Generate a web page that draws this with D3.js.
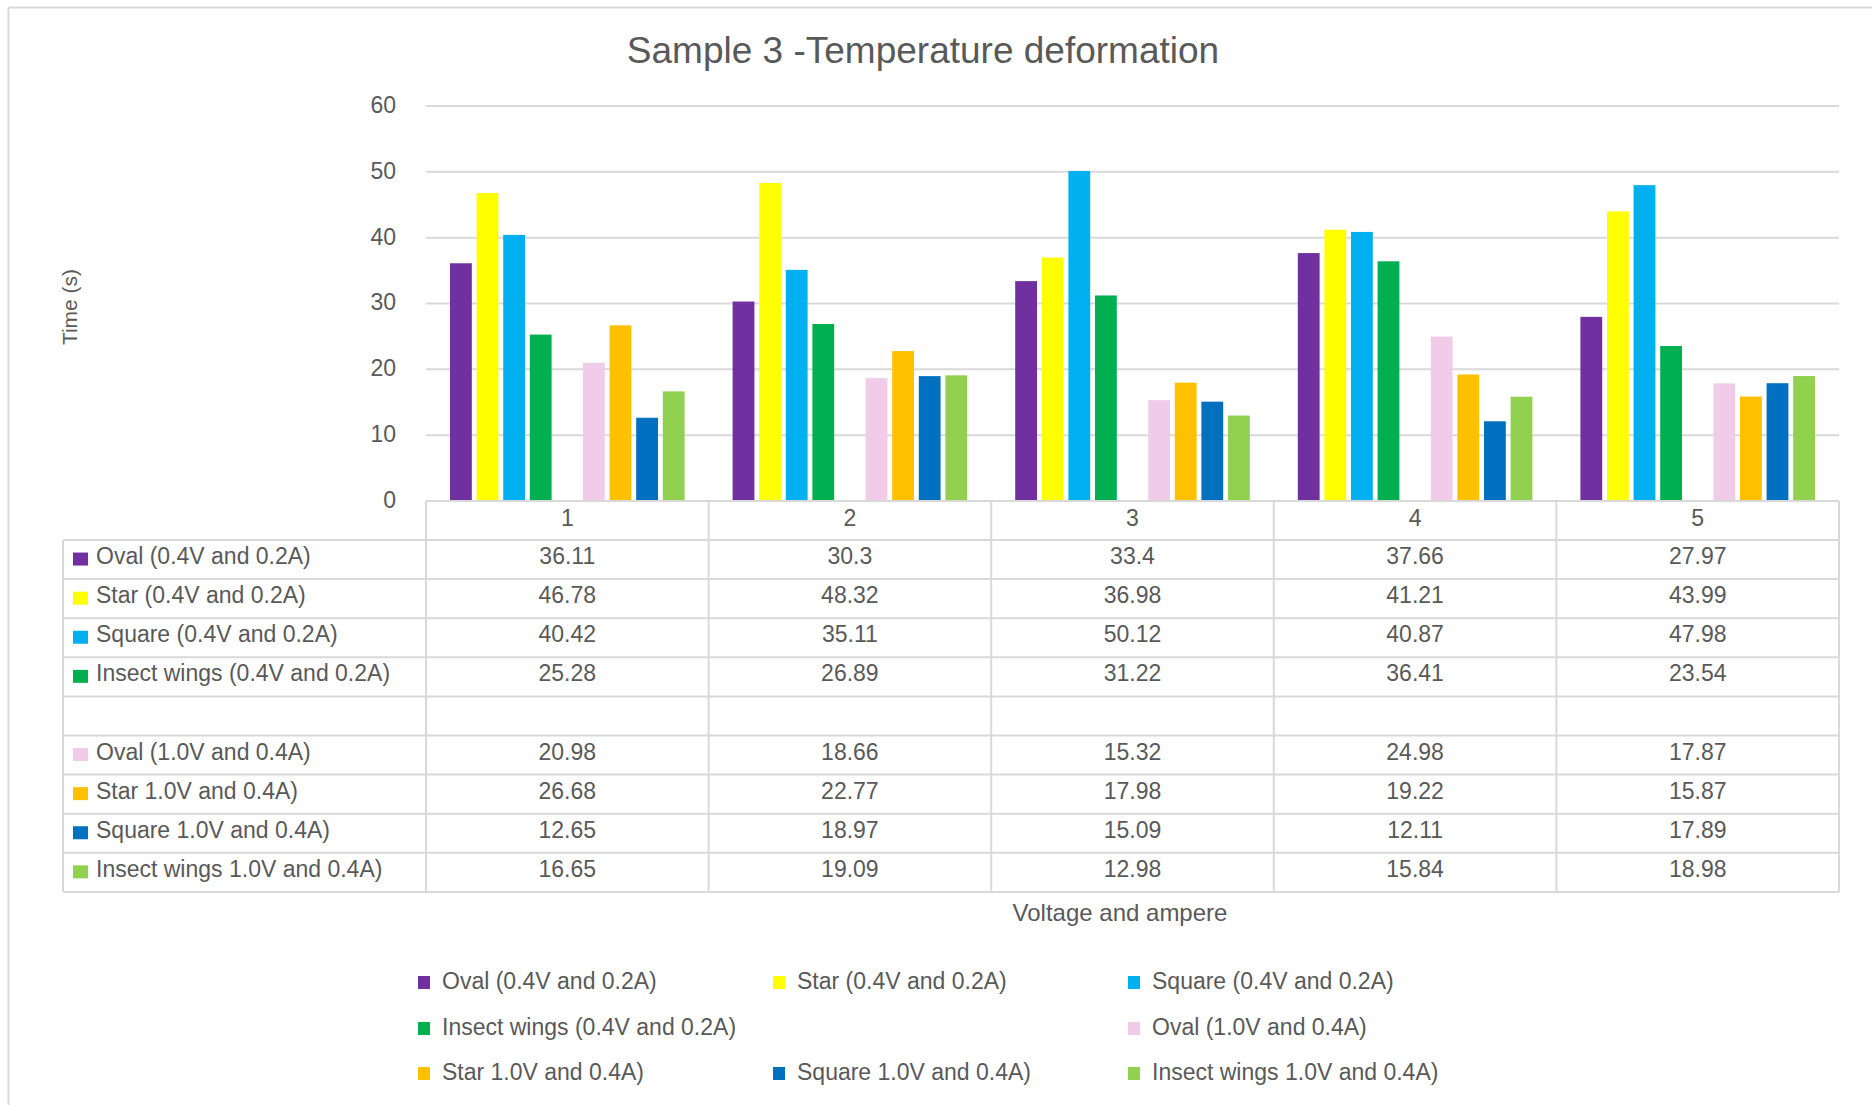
<!DOCTYPE html>
<html>
<head>
<meta charset="utf-8">
<script src="https://cdn.jsdelivr.net/npm/d3@7/dist/d3.min.js"></script>
<style>
  html, body { margin: 0; padding: 0; background: #ffffff; }
  svg { display: block; font-family: "Liberation Sans", Arial, sans-serif; }
</style>
</head>
<body>
<svg id="chart" width="1872" height="1105"></svg>
<script>
// ---------- data ----------
const categories = ["1", "2", "3", "4", "5"];
const seriesNames = [
  "Oval (0.4V and 0.2A)",
  "Star (0.4V and 0.2A)",
  "Square (0.4V and 0.2A)",
  "Insect wings (0.4V and 0.2A)",
  "",
  "Oval (1.0V and 0.4A)",
  "Star 1.0V and 0.4A)",
  "Square 1.0V and 0.4A)",
  "Insect wings 1.0V and 0.4A)"
];
const ovalLow    = [36.11, 30.3, 33.4, 37.66, 27.97];
const starLow    = [46.78, 48.32, 36.98, 41.21, 43.99];
const squareLow  = [40.42, 35.11, 50.12, 40.87, 47.98];
const insectLow  = [25.28, 26.89, 31.22, 36.41, 23.54];
const blankSeries = [null, null, null, null, null];
const ovalHigh   = [20.98, 18.66, 15.32, 24.98, 17.87];
const starHigh   = [26.68, 22.77, 17.98, 19.22, 15.87];
const squareHigh = [12.65, 18.97, 15.09, 12.11, 17.89];
const insectHigh = [16.65, 19.09, 12.98, 15.84, 18.98];
const seriesValues = [ovalLow, starLow, squareLow, insectLow, blankSeries,
                      ovalHigh, starHigh, squareHigh, insectHigh];
const seriesColors = ["#7030A0", "#FFFF00", "#00B0F0", "#00B050", "none",
                      "#F0CCE8", "#FFC000", "#0070C0", "#92D050"];
const yTicks = [0, 10, 20, 30, 40, 50, 60];
const titleText = "Sample 3 -Temperature deformation";
const yTitle = "Time (s)";
const xTitle = "Voltage and ampere";

// ---------- layout ----------
const svg = d3.select("#chart");
const textColor = "#595959";
const gridColor = "#d9d9d9";
const plotLeft = 426, plotRight = 1839;
const yTopPx = 106, yZeroPx = 501;
const tableLeft = 63;
const headerBottom = 540;
const rowH = 39.1;

// chart border
svg.append("line").attr("x1", 8.5).attr("x2", 1872).attr("y1", 7.5).attr("y2", 7.5)
  .attr("stroke", gridColor).attr("stroke-width", 2);
svg.append("line").attr("x1", 8.5).attr("x2", 8.5).attr("y1", 7.5).attr("y2", 1105)
  .attr("stroke", gridColor).attr("stroke-width", 2);

// scales
const x0 = d3.scaleBand().domain(categories).range([plotLeft, plotRight]).padding(0);
const x1 = d3.scaleBand().domain(d3.range(seriesNames.length))
  .range([24, x0.bandwidth() - 24]).paddingInner(0.18).paddingOuter(0);
const y = d3.scaleLinear().domain([0, 60]).range([yZeroPx, yTopPx]);

// gridlines + y axis labels
const yAxis = d3.axisLeft(y).tickValues(yTicks).tickSize(0).tickPadding(30);
const gy = svg.append("g").attr("transform", `translate(${plotLeft},-1)`).call(yAxis);
gy.select(".domain").remove();
gy.selectAll("text").attr("fill", textColor).style("font-size", "23px")
  .style("font-family", "'Liberation Sans', Arial, sans-serif");
svg.append("g").selectAll("line").data(yTicks.filter(d => d > 0)).join("line")
  .attr("x1", plotLeft).attr("x2", plotRight)
  .attr("y1", d => y(d)).attr("y2", d => y(d))
  .attr("stroke", gridColor).attr("stroke-width", 2);

// bars
const barData = [];
seriesValues.forEach((vals, si) => {
  vals.forEach((v, ci) => {
    if (v !== null && seriesColors[si] !== "none") barData.push({ si, ci, v });
  });
});
svg.append("g").selectAll("rect").data(barData).join("rect")
  .attr("x", d => x0(categories[d.ci]) + x1(d.si))
  .attr("width", x1.bandwidth())
  .attr("y", d => y(d.v))
  .attr("height", d => y(0) - y(d.v))
  .attr("fill", d => seriesColors[d.si]);

// ---------- data table ----------
const tableBottom = headerBottom + rowH * seriesNames.length;
const tg = svg.append("g");
tg.append("line").attr("x1", plotLeft).attr("x2", plotRight)
  .attr("y1", yZeroPx).attr("y2", yZeroPx).attr("stroke", gridColor).attr("stroke-width", 2);
d3.range(seriesNames.length + 1).forEach(i => {
  const yy = headerBottom + i * rowH;
  tg.append("line").attr("x1", tableLeft).attr("x2", plotRight)
    .attr("y1", yy).attr("y2", yy).attr("stroke", gridColor).attr("stroke-width", 2);
});
const colEdges = categories.map(c => x0(c)).concat([plotRight]);
colEdges.forEach(xx => {
  tg.append("line").attr("x1", xx).attr("x2", xx)
    .attr("y1", yZeroPx).attr("y2", tableBottom).attr("stroke", gridColor).attr("stroke-width", 2);
});
tg.append("line").attr("x1", tableLeft).attr("x2", tableLeft)
  .attr("y1", headerBottom).attr("y2", tableBottom).attr("stroke", gridColor).attr("stroke-width", 2);

// header labels
tg.selectAll("text.hdr").data(categories).join("text").attr("class", "hdr")
  .attr("x", d => x0(d) + x0.bandwidth() / 2)
  .attr("y", (yZeroPx + headerBottom) / 2 - 2.5)
  .attr("dy", "0.35em").attr("text-anchor", "middle")
  .attr("fill", textColor).style("font-size", "23px").text(d => d);

// row labels + keys + values
seriesNames.forEach((name, si) => {
  const cy = headerBottom + si * rowH + rowH / 2;
  const ty = cy - 3.5;
  if (name) {
    tg.append("rect").attr("x", 73).attr("y", cy - 7).attr("width", 15).attr("height", 13)
      .attr("fill", seriesColors[si]);
    tg.append("text").attr("x", 96).attr("y", ty).attr("dy", "0.35em")
      .attr("fill", textColor).style("font-size", "23px").text(name);
  }
  seriesValues[si].forEach((v, ci) => {
    if (v === null) return;
    tg.append("text").attr("x", x0(categories[ci]) + x0.bandwidth() / 2)
      .attr("y", ty).attr("dy", "0.35em").attr("text-anchor", "middle")
      .attr("fill", textColor).style("font-size", "23px").text(String(v));
  });
});

// ---------- titles ----------
svg.append("text").attr("x", 923).attr("y", 63).attr("text-anchor", "middle")
  .attr("fill", textColor).style("font-size", "37px").text(titleText);
svg.append("text").attr("transform", "translate(77,307) rotate(-90)")
  .attr("text-anchor", "middle").attr("fill", textColor).style("font-size", "21px").text(yTitle);
svg.append("text").attr("x", 1120).attr("y", 921).attr("text-anchor", "middle")
  .attr("fill", textColor).style("font-size", "24px").text(xTitle);

// ---------- legend ----------
const legendColX = [418, 773, 1128];
const legendRowY = [981, 1027, 1072];
const lg = svg.append("g");
seriesNames.forEach((name, i) => {
  if (!name) return;
  const lx = legendColX[i % 3], ly = legendRowY[Math.floor(i / 3)];
  lg.append("rect").attr("x", lx).attr("y", ly - 5).attr("width", 12).attr("height", 13)
    .attr("fill", seriesColors[i]);
  lg.append("text").attr("x", lx + 24).attr("y", ly).attr("dy", "0.35em")
    .attr("fill", textColor).style("font-size", "23px").text(name);
});
</script>
</body>
</html>
